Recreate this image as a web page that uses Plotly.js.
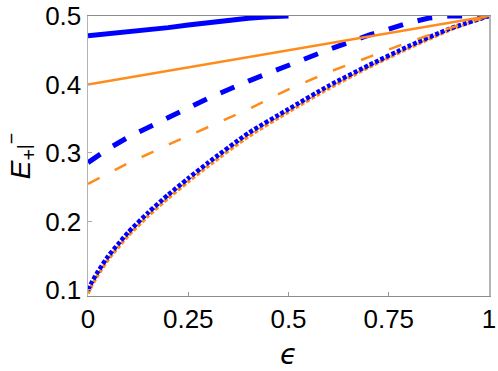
<!DOCTYPE html>
<html>
<head>
<meta charset="utf-8">
<script src="https://cdn.plot.ly/plotly-3.0.1.min.js"></script>
<style>html,body{margin:0;padding:0;background:#fff;}#chart{width:498px;height:371px;}</style>
</head>
<body>
<div id="chart"></div>
<script>
// epsilon grid values
const epsTopBlue = [0, 0.05, 0.1, 0.15, 0.2, 0.25, 0.3, 0.35, 0.4, 0.45, 0.5];
const topBlue    = [0.471, 0.4738, 0.4767, 0.4797, 0.4830, 0.4868, 0.4905, 0.4938, 0.4968, 0.4990, 0.5];

const epsLine    = [0, 1];
const topOrange  = [0.4, 0.5];

const epsDash    = [0, 0.05, 0.1, 0.2, 0.3, 0.4, 0.5, 0.6, 0.7, 0.8, 0.85, 0.9, 1];
const dashBlue   = [0.286, 0.306, 0.323, 0.352, 0.380, 0.405, 0.428, 0.451, 0.472, 0.490, 0.497, 0.5, 0.5];

const epsDashO   = [0, 0.1, 0.2, 0.3, 0.4, 0.5, 0.6, 0.7, 0.8, 0.9, 1];
const dashOrange = [0.255, 0.285, 0.312, 0.338, 0.364, 0.393, 0.418, 0.440, 0.462, 0.482, 0.5];

const epsDot     = [0, 0.01, 0.025, 0.05, 0.075, 0.1, 0.15, 0.2, 0.25, 0.3, 0.4, 0.5, 0.6, 0.7, 0.8, 0.9, 1];
const dotBlue    = [0.100, 0.112, 0.127, 0.149, 0.167, 0.184, 0.213, 0.239, 0.263, 0.286, 0.329, 0.364, 0.398, 0.428, 0.456, 0.481, 0.5];
const dotOrange  = [0.095, 0.107, 0.122, 0.144, 0.162, 0.179, 0.208, 0.234, 0.258, 0.281, 0.324, 0.360, 0.394, 0.425, 0.453, 0.479, 0.5];

const xTicks = [0, 0.25, 0.5, 0.75, 1];
const xTickText = ['0', '0.25', '0.5', '0.75', '1'];
const yTicks = [0.1, 0.2, 0.3, 0.4, 0.5];
const yTickText = ['0.1', '0.2', '0.3', '0.4', '0.5'];

const BLUE = '#0000ff';
const ORANGE = '#ff8c1a';

const traces = [
  {x: epsDot, y: dotOrange, mode: 'lines', line: {color: ORANGE, width: 3.5, dash: '4px,2px', shape: 'spline', smoothing: 0.6}},
  {x: epsDot, y: dotBlue, mode: 'lines', line: {color: BLUE, width: 4.5, dash: '4px,2px', shape: 'spline', smoothing: 0.6}},
  {x: epsDashO, y: dashOrange, mode: 'lines', line: {color: ORANGE, width: 2.5, dash: '13px,17px'}},
  {x: epsDash, y: dashBlue, mode: 'lines', line: {color: BLUE, width: 5, dash: '15px,15px'}},
  {x: epsTopBlue, y: topBlue, mode: 'lines', line: {color: BLUE, width: 5}},
  {x: epsLine, y: topOrange, mode: 'lines', line: {color: ORANGE, width: 2.5}}
];

const layout = {
  width: 498, height: 371,
  margin: {l: 88, r: 9, t: 16, b: 75},
  showlegend: false,
  paper_bgcolor: '#fff', plot_bgcolor: '#fff',
  font: {family: 'Liberation Sans, Arial, sans-serif', color: '#000'},
  xaxis: {
    range: [0, 1], tickvals: xTicks, ticktext: xTickText,
    ticks: 'inside', ticklen: 4, tickcolor: '#999', tickwidth: 1,
    showline: true, linecolor: '#8c8c8c', linewidth: 1.2, mirror: true,
    showgrid: false, zeroline: false,
    tickfont: {size: 26, family: 'Liberation Sans, Arial, sans-serif'},
    title: {text: '<i>ϵ</i>', font: {size: 28, family: 'DejaVu Sans, sans-serif'}, standoff: 19}
  },
  yaxis: {
    range: [0.0912, 0.5], tickvals: yTicks, ticktext: yTickText,
    ticks: 'inside', ticklen: 4, tickcolor: '#aaa', tickwidth: 1,
    showline: true, linecolor: '#b4b4b4', linewidth: 1.5, mirror: true,
    showgrid: false, zeroline: false,
    tickfont: {size: 26, family: 'Liberation Sans, Arial, sans-serif'},
    title: {text: '<i>E</i><sub>+</sub><span style="font-size:18px">|</span><sup>−</sup>', font: {size: 28, family: 'Liberation Sans, Arial, sans-serif'}, standoff: 11}
  }
};

Plotly.newPlot('chart', traces, layout, {staticPlot: true, displayModeBar: false});
</script>
</body>
</html>
